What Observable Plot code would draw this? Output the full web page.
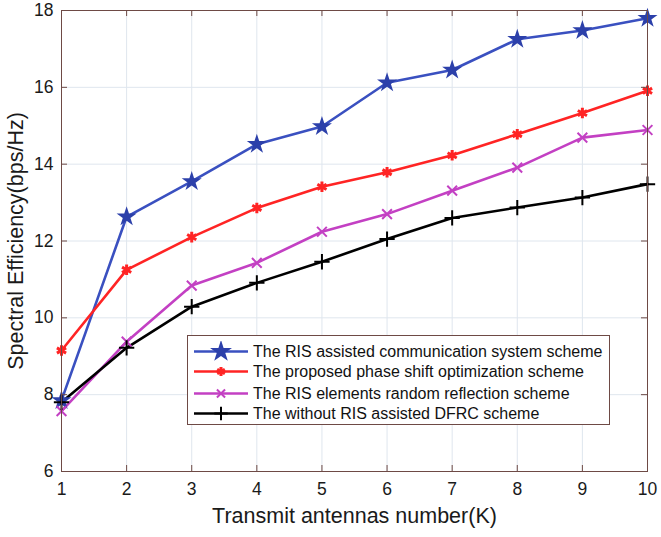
<!DOCTYPE html>
<html>
<head>
<meta charset="utf-8">
<script src="https://cdn.jsdelivr.net/npm/d3@7"></script>
<script src="https://cdn.jsdelivr.net/npm/@observablehq/plot@0.6"></script>
<style>
  body { margin: 0; background: #fff; }
  #wrap { position: relative; width: 661px; height: 537px; font-family: "Liberation Sans", Arial, sans-serif; }
  #legend { position: absolute; left: 187px; top: 335px; width: 421px; height: 88px; border: 1px solid #6e4a45; background: #fff; box-sizing: content-box; }
  #legend .row { position: absolute; left: 0; height: 21px; display: flex; align-items: center; }
  #legend .row span { font-size: 16px; color: #111; margin-left: 3px; white-space: nowrap; }
</style>
</head>
<body>
<div id="wrap"></div>
<script>
// ---- data ----
const K = [1, 2, 3, 4, 5, 6, 7, 8, 9, 10];
const seriesNames = [
  "The RIS assisted communication system scheme",
  "The proposed phase shift optimization scheme",
  "The RIS elements random reflection scheme",
  "The without RIS assisted DFRC scheme"
];
const risAssisted = [7.85, 12.63, 13.55, 14.52, 14.98, 16.12, 16.45, 17.25, 17.48, 17.80];
const proposed    = [9.15, 11.25, 12.10, 12.86, 13.41, 13.79, 14.23, 14.78, 15.33, 15.91];
const randomRefl  = [7.57, 9.38, 10.84, 11.43, 12.24, 12.70, 13.31, 13.91, 14.69, 14.89];
const withoutRIS  = [7.80, 9.22, 10.29, 10.91, 11.46, 12.05, 12.60, 12.87, 13.13, 13.48];
const xTicks = [1, 2, 3, 4, 5, 6, 7, 8, 9, 10];
const yTicks = [6, 8, 10, 12, 14, 16, 18];
const xLabel = "Transmit antennas number(K)";
const yLabel = "Spectral Efficiency(bps/Hz)";

// ---- styles ----
const allValues = [risAssisted, proposed, randomRefl, withoutRIS];
const styles = [
  {color: "#3a50c0", symbol: "star", fill: "#2c40aa", stroke: "none", r: 6.3, sw: 1, d3sym: d3.symbolStar, legendSize: 150},
  {color: "#ff2424", symbol: "asterisk", fill: "none", stroke: "#ff2424", r: 5, sw: 3, d3sym: d3.symbolAsterisk, legendSize: 55},
  {color: "#c340c3", symbol: "times", fill: "none", stroke: "#c340c3", r: 4.5, sw: 2, d3sym: d3.symbolTimes, legendSize: 45},
  {color: "#000000", symbol: "plus", fill: "none", stroke: "#000000", r: 5, sw: 2, d3sym: d3.symbolPlus, legendSize: 60}
];

const rows = seriesNames.map((s, i) => K.map((k, j) => ({k, v: allValues[i][j], s})));

const W = 661, H = 537, mL = 61, mR = 14, mT = 10, mB = 66;
const pw = W - mL - mR, ph = H - mT - mB;
const frameColor = "#6e4a45";
const gridColor = "#dfe6ee";

const marks = [
  Plot.gridX(xTicks, {stroke: gridColor, strokeOpacity: 1}),
  Plot.gridY(yTicks, {stroke: gridColor, strokeOpacity: 1}),
];
rows.forEach((data, i) => {
  const st = styles[i];
  marks.push(Plot.line(data, {x: "k", y: "v", stroke: st.color, strokeWidth: 2.6}));
});
rows.forEach((data, i) => {
  const st = styles[i];
  marks.push(Plot.dot(data, {x: "k", y: "v", symbol: () => st.symbol, r: st.r, fill: st.fill, stroke: st.stroke, strokeWidth: st.sw}));
});
marks.push(
  Plot.frame({stroke: frameColor, strokeWidth: 1}),
  // inward ticks on all four sides
  Plot.tickX(xTicks, {x: d => d, insetTop: ph - 6, stroke: frameColor}),
  Plot.tickX(xTicks, {x: d => d, insetBottom: ph - 6, stroke: frameColor}),
  Plot.tickY(yTicks, {y: d => d, insetRight: pw - 6, stroke: frameColor}),
  Plot.tickY(yTicks, {y: d => d, insetLeft: pw - 6, stroke: frameColor}),
  Plot.axisX(xTicks, {tickSize: 0, tickPadding: 11, fontSize: 17.5, label: null, fill: "#1a1a1a"}),
  Plot.axisY(yTicks, {tickSize: 0, tickPadding: 8, fontSize: 17.5, label: null, fill: "#1a1a1a"}),
  Plot.text([xLabel], {frameAnchor: "bottom", dy: 45, fontSize: 21.5, fill: "#1a1a1a", textAnchor: "middle", lineAnchor: "middle"}),
  Plot.text([yLabel], {frameAnchor: "left", dx: -45, rotate: -90, fontSize: 21.5, fill: "#1a1a1a", textAnchor: "middle", lineAnchor: "middle"})
);

const chart = Plot.plot({
  width: W, height: H,
  marginLeft: mL, marginRight: mR, marginTop: mT, marginBottom: mB,
  style: {fontFamily: "'Liberation Sans', Arial, sans-serif", background: "#fff"},
  x: {domain: [1, 10], type: "linear"},
  y: {domain: [6, 18], type: "linear"},
  symbol: {type: "identity"},
  marks
});

const wrap = document.getElementById("wrap");
wrap.appendChild(chart);

// ---- legend overlay ----
const legend = document.createElement("div");
legend.id = "legend";
wrap.appendChild(legend);
const rowTops = [5, 25, 47, 67];
seriesNames.forEach((name, i) => {
  const st = styles[i];
  const row = document.createElement("div");
  row.className = "row";
  row.style.top = rowTops[i] + "px";
  const svg = d3.create("svg").attr("width", 62).attr("height", 21);
  svg.append("line").attr("x1", 6).attr("x2", 60).attr("y1", 10.5).attr("y2", 10.5)
    .attr("stroke", st.color).attr("stroke-width", 2.6);
  svg.append("path").attr("d", d3.symbol(st.d3sym, st.legendSize)())
    .attr("transform", "translate(33,10.5)")
    .attr("fill", st.fill).attr("stroke", st.stroke).attr("stroke-width", st.sw);
  row.appendChild(svg.node());
  const span = document.createElement("span");
  span.textContent = name;
  row.appendChild(span);
  legend.appendChild(row);
});
</script>
</body>
</html>
